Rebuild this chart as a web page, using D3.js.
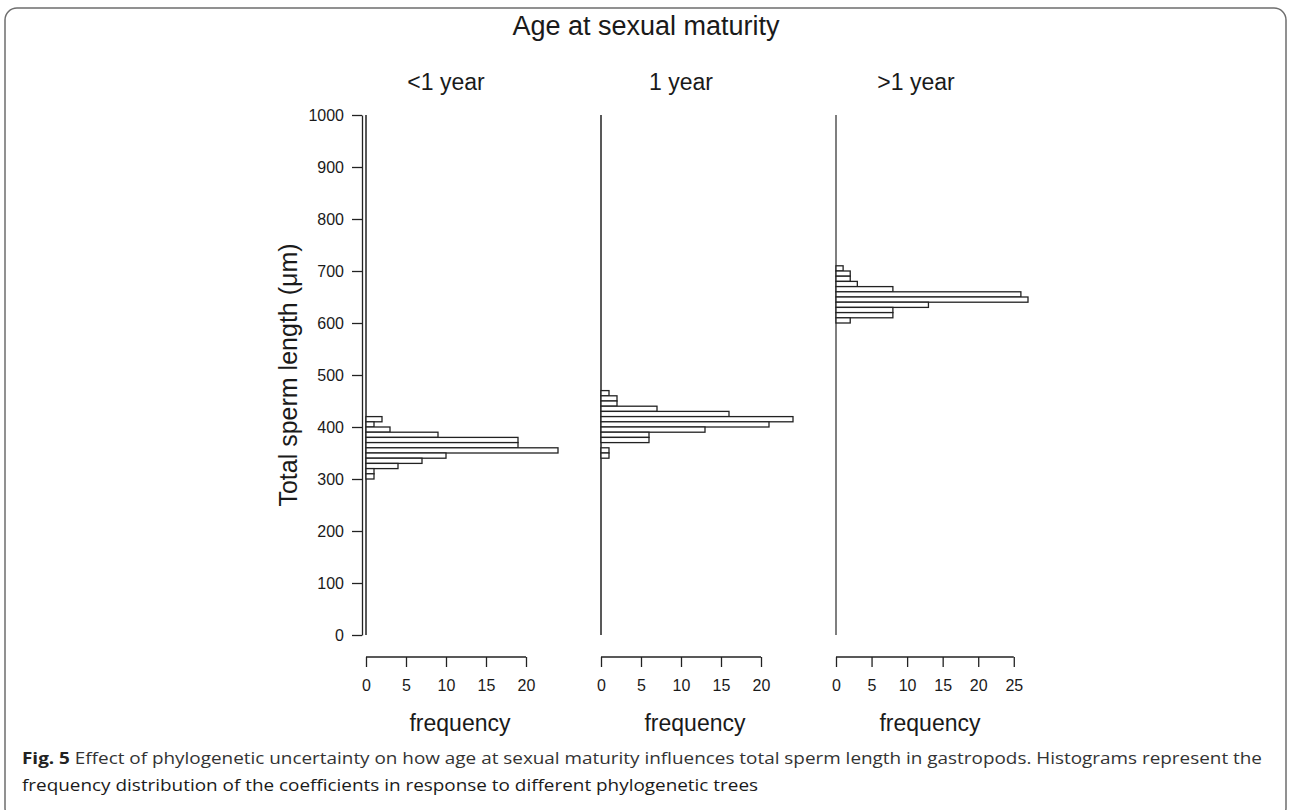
<!DOCTYPE html>
<html>
<head>
<meta charset="utf-8">
<script src="https://cdn.jsdelivr.net/npm/d3@7"></script>
<style>
  body { margin: 0; background: #fff; }
  svg text { font-family: "Liberation Sans", Arial, Helvetica, sans-serif; fill: #1a1a1a; }
  .caption text { font-family: "Open Sans", "Noto Sans", sans-serif; }
</style>
</head>
<body>
<svg id="chart" width="1290" height="810"></svg>
<script>
// histogram data, bins are 10 um wide, listed top to bottom
const panelNames = ["<1 year", "1 year", ">1 year"];
const binWidth = 10;
const lower1 = [410, 400, 390, 380, 370, 360, 350, 340, 330, 320, 310, 300];
const counts1 = [2, 1, 3, 9, 19, 19, 24, 10, 7, 4, 1, 1];
const lower2 = [460, 450, 440, 430, 420, 410, 400, 390, 380, 370, 360, 350, 340];
const counts2 = [1, 2, 2, 7, 16, 24, 21, 13, 6, 6, 0, 1, 1];
const lower3 = [700, 690, 680, 670, 660, 650, 640, 630, 620, 610, 600];
const counts3 = [1, 2, 2, 3, 8, 26, 27, 13, 8, 8, 2];
const xTicks12 = [0, 5, 10, 15, 20];
const xTicks3 = [0, 5, 10, 15, 20, 25];
const yTicks = [0, 100, 200, 300, 400, 500, 600, 700, 800, 900, 1000];

const svg = d3.select("#chart");

// frame round the figure
svg.append("rect")
    .attr("x", 5).attr("y", 8)
    .attr("width", 1281).attr("height", 812)
    .attr("rx", 12)
    .attr("fill", "none")
    .attr("stroke", "#6e6e6e")
    .attr("stroke-width", 1.5);

let y = d3.scaleLinear().domain([0, 1000]).range([635, 115]);

// y axis (only on the first panel)
let yAxis = svg.append("g")
    .attr("transform", "translate(362,0)")
    .call(d3.axisLeft(y).tickValues(yTicks).tickFormat(d3.format("d"))
        .tickSize(10).tickSizeOuter(0).tickPadding(8));
yAxis.selectAll("text").style("font-size", "16px");
yAxis.selectAll("line, path").attr("stroke", "#222").attr("stroke-width", 1.3);

svg.append("text")
    .attr("transform", "translate(297,375) rotate(-90)")
    .attr("text-anchor", "middle")
    .style("font-size", "25px")
    .text("Total sperm length (\u03bcm)");

svg.append("text")
    .attr("x", 646).attr("y", 35)
    .attr("text-anchor", "middle")
    .style("font-size", "27px")
    .text("Age at sexual maturity");

let panels = [
    {name: panelNames[0], lower: lower1, counts: counts1, ticks: xTicks12, base: 366, col: "#222"},
    {name: panelNames[1], lower: lower2, counts: counts2, ticks: xTicks12, base: 601, col: "#222"},
    {name: panelNames[2], lower: lower3, counts: counts3, ticks: xTicks3, base: 836, col: "#555"}
];

panels.forEach(p => {
    let maxCount = d3.max(p.counts);
    let x = d3.scaleLinear().domain([0, maxCount]).range([p.base, p.base + 192]);
    let g = svg.append("g");

    // zero-count bins along the whole range show up as a line
    g.append("line")
        .attr("x1", x(0)).attr("x2", x(0))
        .attr("y1", y(0)).attr("y2", y(1000))
        .attr("stroke", p.col).attr("stroke-width", 1.5);

    let bins = p.lower.map((l, i) => ({lo: l, n: p.counts[i]}));
    g.selectAll("rect.bar")
        .data(bins)
        .enter()
        .append("rect")
        .attr("class", "bar")
        .attr("x", x(0))
        .attr("y", d => y(d.lo + binWidth))
        .attr("width", d => x(d.n) - x(0))
        .attr("height", d => y(d.lo) - y(d.lo + binWidth))
        .attr("fill", "#fff")
        .attr("stroke", "#222")
        .attr("stroke-width", 1.3);

    // frequency axis, line runs from first to last tick like R does
    let xAxis = g.append("g")
        .attr("transform", "translate(0,657)")
        .call(d3.axisBottom(x).tickValues(p.ticks).tickSize(10).tickSizeOuter(0).tickPadding(13));
    xAxis.select(".domain").remove();
    xAxis.append("line")
        .attr("x1", x(p.ticks[0])).attr("x2", x(p.ticks[p.ticks.length - 1]));
    xAxis.selectAll("line").attr("stroke", "#222").attr("stroke-width", 1.3);
    xAxis.selectAll("text").style("font-size", "16px");

    g.append("text")
        .attr("x", p.base + 94).attr("y", 731)
        .attr("text-anchor", "middle")
        .style("font-size", "23px")
        .text("frequency");

    g.append("text")
        .attr("x", p.base + 80).attr("y", 90)
        .attr("text-anchor", "middle")
        .style("font-size", "23px")
        .text(p.name);
});

// caption, first line is justified to the full width
let cap = svg.append("g").attr("class", "caption");
let line1 = cap.append("text")
    .attr("x", 22).attr("y", 764)
    .style("font-size", "16px");
line1.append("tspan").style("font-weight", "bold").attr("fill", "#222").text("Fig. 5");
line1.append("tspan").attr("fill", "#333")
    .text(" Effect of phylogenetic uncertainty on how age at sexual maturity influences total sperm length in gastropods. Histograms represent the");
let line2 = cap.append("text")
    .attr("x", 22).attr("y", 791)
    .attr("fill", "#333")
    .style("font-size", "16px")
    .text("frequency distribution of the coefficients in response to different phylogenetic trees");

let k = 1240 / line1.node().getComputedTextLength();
line1.attr("textLength", 1240).attr("lengthAdjust", "spacingAndGlyphs");
line2.attr("textLength", line2.node().getComputedTextLength() * k).attr("lengthAdjust", "spacingAndGlyphs");
</script>
</body>
</html>
